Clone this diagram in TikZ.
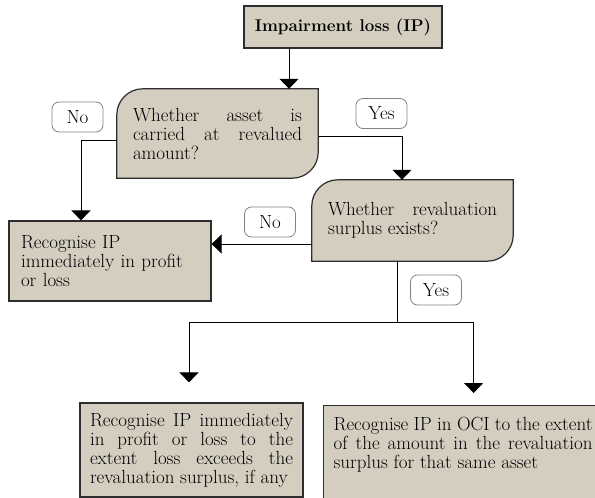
\documentclass[tikz,border=0pt]{standalone}
\usepackage{fontspec}
\usetikzlibrary{arrows.meta,backgrounds}
\definecolor{boxfill}{RGB}{212,206,192}
\definecolor{boxline}{RGB}{45,45,45}
\definecolor{tagline}{RGB}{130,130,130}
\begin{document}
\begin{tikzpicture}[x=1pt,y=1pt,
  font=\fontsize{19}{19}\selectfont,
  plain/.style={draw=boxline,fill=boxfill,line width=1.2pt,inner xsep=11pt},
  query/.style={text width=169pt,align=justify,minimum width=201pt,inner xsep=16pt},
  tag/.style={draw=tagline,fill=white,rounded corners=7pt,line width=0.8pt,
    minimum width=51pt,minimum height=30pt,inner sep=0pt},
  arr/.style={-{Triangle[width=19pt,length=10pt]},line width=1pt}]
\useasboundingbox (0,0) rectangle (595,-498);

% boxes
\node[plain,minimum width=196pt,minimum height=42pt,
  font=\fontsize{17}{19}\selectfont\bfseries] (loss) at (343,-27) {Impairment loss (IP)};
\node[query,minimum height=89pt] (reval) at (217.5,-133.5)
  {Whether asset is\linebreak carried at revalued\linebreak amount?};
\node[query,minimum height=81pt] (surplus) at (412.5,-220.5)
  {Whether revaluation\linebreak surplus exists?};
\node[plain,text width=178pt,align=left,minimum height=80pt,inner xsep=12pt] (pl) at (110,-261)
  {Recognise IP\\immediately in profit\\or loss};
\node[plain,text width=203pt,align=justify,minimum height=94pt,inner xsep=10pt] (excess) at (191.5,-450)
  {Recognise IP immediately\linebreak in profit or loss to the\linebreak
   extent loss exceeds the\linebreak revaluation surplus, if any};
\node[plain,anchor=north west,text width=259pt,align=justify,inner xsep=10pt,inner ysep=12pt] (oci) at (323,-405)
  {Recognise IP in OCI to the extent\linebreak of the amount in the revaluation\linebreak
   surplus for that same asset\\[10pt]\mbox{}};

% yes/no tags
\node[tag] (no1) at (77.5,-117) {No};
\node[tag] (yes1) at (381.5,-113.5) {Yes};
\node[tag] (no2) at (270,-222) {No};
\node[tag] (yes2) at (436,-290) {Yes};

% decision outlines
\begin{scope}[on background layer]
\foreach \q in {reval,surplus}
  \draw[draw=boxline,fill=boxfill,line width=1.2pt] (\q.south west)
    -- ([yshift=-26]\q.north west) arc[start angle=180,end angle=90,radius=26]
    -- (\q.north east) -- ([yshift=26]\q.south east)
    arc[start angle=0,end angle=-90,radius=26] -- cycle;
\end{scope}

% connectors
\draw[arr] ([xshift=-54]loss.south) -- ([xshift=71.5]reval.north);
\draw[arr] ([yshift=-6.5]reval.west) -| ([xshift=-29]pl.north);
\draw[arr] ([yshift=-2.5]reval.east) -| ([xshift=-10.5]surplus.north);
\draw[arr] ([yshift=-23.5]surplus.west) -- ([yshift=-23.5]surplus.west -| pl.east);
\draw ([xshift=-15.5]surplus.south) -- ++(0,-61) coordinate (fork);
\draw[arr] (fork) -| ([shift={(-2.5,20)}]excess.north);
\draw[arr] (fork) -| ([shift={(10.5,12)}]oci.north);
\end{tikzpicture}
\end{document}
